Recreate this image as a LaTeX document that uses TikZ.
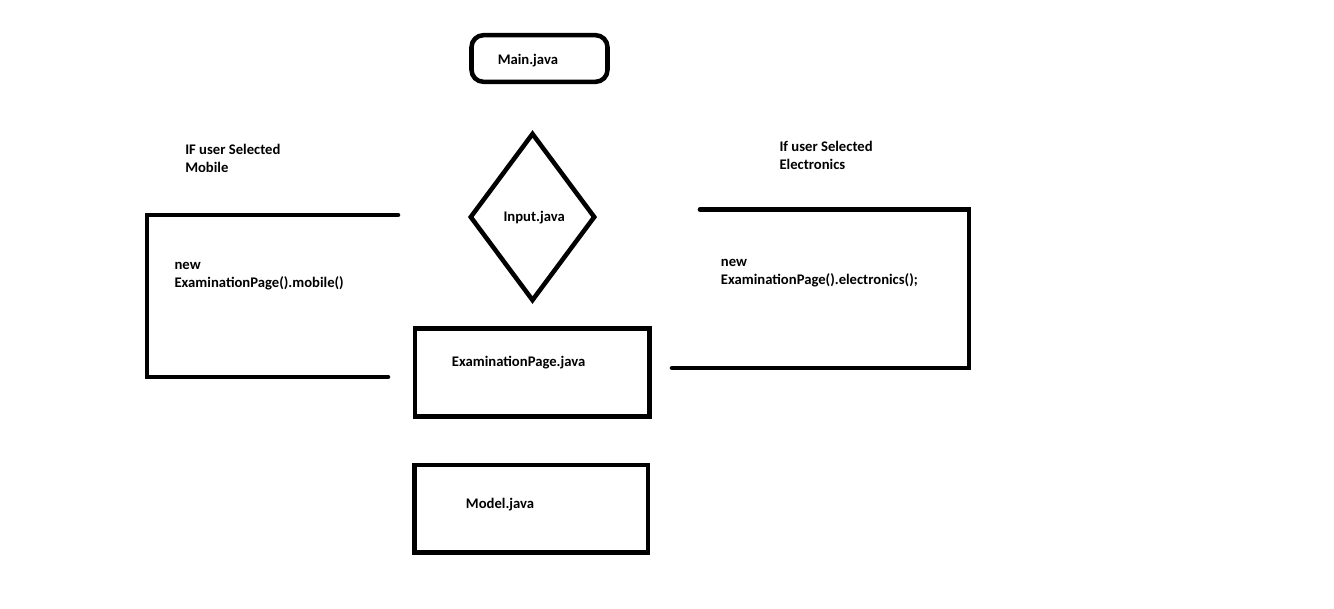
\documentclass[tikz,border=0pt]{standalone}
\usepackage{fontspec}
\setmainfont{Carlito}
\usetikzlibrary{shapes.geometric}
\begin{document}
\begin{tikzpicture}[x=0.75pt,y=-0.75pt,
  stroke/.style={line width=3.4pt},
  box/.style={stroke,draw,rectangle,inner sep=0pt},
  lbl/.style={anchor=base west,inner sep=0pt,align=left,
    font=\fontsize{11pt}{13.5pt}\selectfont\bfseries}]
  % page area
  \useasboundingbox[fill=white] (0,0) rectangle (1334,608);

  % main entry and the input decision
  \node[box,rounded corners=9pt,minimum width=102pt,minimum height=35pt] (main) at (539.5,58.5) {};
  \node[stroke,draw,diamond,inner sep=0pt,minimum width=94pt,minimum height=126pt] (input) at (532.5,217) {};

  % page and model classes
  \node[box,minimum width=176pt,minimum height=66pt] (exam) at (532.3,372.6) {};
  \node[box,minimum width=175pt,minimum height=65.6pt] (model) at (531.4,508.7) {};

  % open brackets for the two branches
  \coordinate (mobTR) at (398,215);
  \coordinate (mobTL) at (147,215);
  \coordinate (mobBL) at (147,377);
  \coordinate (mobBR) at (388,377);
  \draw[stroke,line cap=round] (mobTR) -- (mobTL) -- (mobBL) -- (mobBR);

  \coordinate (eleTL) at (700,209.5);
  \coordinate (eleTR) at (969,209.5);
  \coordinate (eleBR) at (969,368);
  \coordinate (eleBL) at (672,368);
  \draw[stroke,line cap=round] (eleTL) -- (eleTR) -- (eleBR) -- (eleBL);

  % labels (multi-line labels sit on the baseline of their last line)
  \node[lbl] (mainTxt) at (497.5,64.3) {Main.java};
  \node[lbl] (inputTxt) at (503.3,221.7) {Input.java};
  \node[lbl] (examTxt) at (451.7,366.7) {ExaminationPage.java};
  \node[lbl] (modelTxt) at (465.7,508.3) {Model.java};

  \node[lbl] (mobCond) at (185,172.4) {IF user Selected\\Mobile};
  \node[lbl] (mobCall) at (174.3,287.5) {new\\ExaminationPage().mobile()};
  \node[lbl] (eleCond) at (779.3,169.5) {If user Selected\\Electronics};
  \node[lbl] (eleCall) at (720.7,284.7) {new\\ExaminationPage().electronics();};
\end{tikzpicture}
\end{document}
